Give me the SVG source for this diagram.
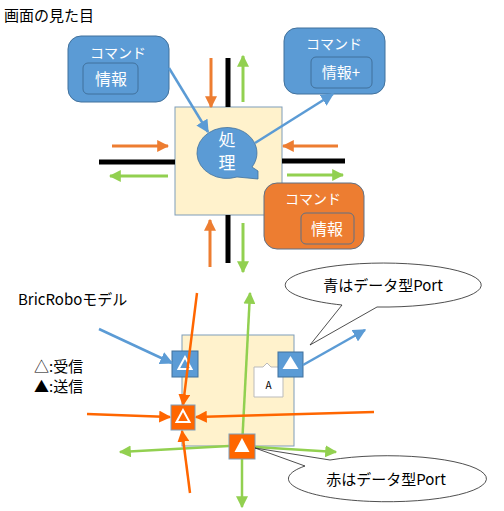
<svg xmlns="http://www.w3.org/2000/svg" width="504" height="511" viewBox="0 0 504 511">
<defs>
<style>
text{font-family:"Noto Sans CJK JP","Noto Sans",sans-serif;}
.t{fill:#000;font-size:15px;}
.w{fill:#fff;}
.beige{fill:#FFF2CC;stroke:#7F9DB9;stroke-width:1;}
.bbox{fill:#5B9BD5;stroke:#41719C;stroke-width:1;}
.obox{fill:#ED7D31;stroke:#5F7186;stroke-width:1;}
.inb{fill:none;stroke:#41719C;stroke-width:1;}
.ino{fill:none;stroke:#5F7186;stroke-width:1;}
.blk{stroke:#000;stroke-width:5;}
.or{stroke:#ED7D31;stroke-width:3;fill:none;}
.gr{stroke:#92D050;stroke-width:3;fill:none;}
.bl{stroke:#5B9BD5;stroke-width:2.5;fill:none;}
.or2{stroke:#FF6600;stroke-width:2.5;fill:none;}
.gr2{stroke:#92D050;stroke-width:2.5;fill:none;}
.pb{fill:#5B9BD5;stroke:#41719C;stroke-width:1;}
.po{fill:#FF6600;stroke:#7F9DB9;stroke-width:1;}
.call{fill:#fff;stroke:#222;stroke-width:0.8;}
</style>
<marker id="mo" viewBox="0 0 10 10" refX="9" refY="5" markerUnits="userSpaceOnUse" markerWidth="12" markerHeight="12" orient="auto"><path d="M0,0L10,5L0,10z" fill="#ED7D31"/></marker>
<marker id="mg" viewBox="0 0 10 10" refX="9" refY="5" markerUnits="userSpaceOnUse" markerWidth="12" markerHeight="12" orient="auto"><path d="M0,0L10,5L0,10z" fill="#92D050"/></marker>
<marker id="mb" viewBox="0 0 10 10" refX="9" refY="5" markerUnits="userSpaceOnUse" markerWidth="13" markerHeight="13" orient="auto"><path d="M0,0L10,5L0,10z" fill="#5B9BD5"/></marker>
<marker id="mo2" viewBox="0 0 10 10" refX="9" refY="5" markerUnits="userSpaceOnUse" markerWidth="12" markerHeight="12" orient="auto"><path d="M0,0L10,5L0,10z" fill="#FF6600"/></marker>
</defs>

<text id="title" class="t" x="4" y="21" font-size="16">画面の見た目</text>

<g id="main-box"><rect class="beige" x="175" y="107" width="107" height="108"/></g>

<g id="connectors">
<line class="blk" x1="228" y1="58" x2="228" y2="107"/>
<line class="blk" x1="228" y1="215" x2="228" y2="263"/>
<line class="blk" x1="99" y1="162" x2="175" y2="162"/>
<line class="blk" x1="282" y1="161" x2="345" y2="161"/>
<line class="or" x1="211" y1="58" x2="211" y2="107" marker-end="url(#mo)"/>
<line class="gr" x1="243" y1="102" x2="243" y2="56" marker-end="url(#mg)"/>
<line class="or" x1="112" y1="146" x2="168" y2="146" marker-end="url(#mo)"/>
<line class="gr" x1="168" y1="176" x2="110" y2="176" marker-end="url(#mg)"/>
<line class="or" x1="338" y1="146" x2="283" y2="146" marker-end="url(#mo)"/>
<line class="gr" x1="287" y1="175" x2="343" y2="175" marker-end="url(#mg)"/>
<line class="or" x1="210" y1="267" x2="210" y2="220" marker-end="url(#mo)"/>
<line class="gr" x1="243" y1="223" x2="243" y2="272" marker-end="url(#mg)"/>
</g>

<g id="process">
<path d="M252,167 L258,171 L258,179 L237,177 A30,25.5 0 1,1 252,167 Z" fill="#5B9BD5" stroke="#41719C" stroke-width="0.8"/>
<text class="w" x="227" y="146" font-size="17" text-anchor="middle">処</text>
<text class="w" x="227" y="169" font-size="17" text-anchor="middle">理</text>
</g>

<g id="cmd1">
<rect class="bbox" x="68" y="36" width="101" height="66" rx="13"/>
<text class="w" x="118" y="58" font-size="14" text-anchor="middle">コマンド</text>
<rect class="inb" x="83" y="63" width="55" height="31" rx="5"/>
<text class="w" x="111" y="85" font-size="16" text-anchor="middle">情報</text>
</g>

<g id="cmd2">
<rect class="bbox" x="284" y="28" width="101" height="66" rx="13"/>
<text class="w" x="334" y="49" font-size="14" text-anchor="middle">コマンド</text>
<rect class="inb" x="311" y="57" width="61" height="31" rx="5"/>
<text class="w" x="341" y="78" font-size="15" text-anchor="middle">情報+</text>
</g>

<g id="cmd3">
<rect class="obox" x="264" y="183" width="100" height="66" rx="13"/>
<text class="w" x="313" y="204" font-size="14" text-anchor="middle">コマンド</text>
<rect class="ino" x="301" y="213" width="53" height="31" rx="5"/>
<text class="w" x="327" y="235" font-size="16" text-anchor="middle">情報</text>
</g>

<g id="blue-connectors">
<line class="bl" x1="169" y1="68" x2="208" y2="132" marker-end="url(#mb)"/>
<line class="bl" x1="255" y1="143" x2="333" y2="94" marker-end="url(#mb)"/>
</g>

<text id="label-model" class="t" x="18" y="305" font-size="14">BricRoboモデル</text>
<text id="legend-rx" class="t" x="34" y="372" font-size="15">△:受信</text>
<text id="legend-tx" class="t" x="34" y="392" font-size="15">▲:送信</text>

<g id="model-box"><rect class="beige" x="182" y="335" width="112" height="111"/></g>

<g id="a-box">
<path d="M254,367 H263 L267,363 L271,367 H283 V397 H254 Z" fill="#fff" stroke="#BBB" stroke-width="1"/>
<text x="268.5" y="389" font-size="10" text-anchor="middle" fill="#000">A</text>
</g>

<g id="port-blue-in">
<rect class="pb" x="172" y="351" width="26" height="26"/>
<path d="M185,357 L178.5,369 L191.5,369 Z" fill="none" stroke="#fff" stroke-width="2"/>
</g>
<g id="port-blue-out">
<rect class="pb" x="278" y="352" width="25" height="25"/>
<path d="M290.5,356 L282.5,369 L298.5,369 Z" fill="#fff"/>
</g>

<g id="model-connectors">
<line class="bl" x1="99" y1="329" x2="172" y2="363" marker-end="url(#mb)"/>
<line class="bl" x1="303" y1="365" x2="365" y2="330" marker-end="url(#mb)"/>
<line class="gr2" x1="242" y1="446" x2="250" y2="293" marker-end="url(#mg)"/>
<line class="gr2" x1="242" y1="459" x2="242" y2="507" marker-end="url(#mg)"/>
<line class="gr2" x1="229" y1="446" x2="120" y2="452" marker-end="url(#mg)"/>
<line class="gr2" x1="255" y1="447" x2="336" y2="452" marker-end="url(#mg)"/>
<line class="or2" x1="197" y1="293" x2="183" y2="405" marker-end="url(#mo2)"/>
<line class="or2" x1="87" y1="414" x2="170" y2="417" marker-end="url(#mo2)"/>
<line class="or2" x1="374" y1="412" x2="196" y2="417" marker-end="url(#mo2)"/>
<line class="or2" x1="190" y1="493" x2="182" y2="431" marker-end="url(#mo2)"/>
</g>

<g id="port-orange-in">
<rect class="po" x="171" y="405" width="24" height="25"/>
<path d="M183,410 L176.5,422 L189.5,422 Z" fill="none" stroke="#fff" stroke-width="2"/>
</g>
<g id="port-orange-out">
<rect class="po" x="229" y="434" width="26" height="25"/>
<path d="M242,438 L234.5,452 L249.5,452 Z" fill="#fff"/>
</g>

<g id="callout-blue">
<path class="call" d="M342,305 A98,22 0 1,1 377,307 L310,345 Z"/>
<text class="t" x="383" y="291" text-anchor="middle">青はデータ型Port</text>
</g>
<g id="callout-red">
<path class="call" d="M330,460 A99,23 0 1,1 305,466 L255,448 Z"/>
<text class="t" x="386" y="485" text-anchor="middle">赤はデータ型Port</text>
</g>
</svg>
